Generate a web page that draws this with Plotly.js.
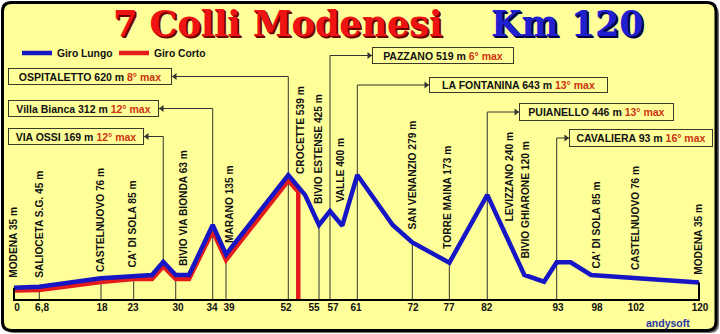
<!DOCTYPE html>
<html><head><meta charset="utf-8">
<script src="https://cdn.plot.ly/plotly-3.0.1.min.js"></script>
<style>html,body{margin:0;padding:0;background:#fff}#chart{width:720px;height:334px}</style>
</head><body><div id="chart"></div>
<script>
// ================= DATA =================
// Km markers shown under the profile. The original drawing is schematic: its horizontal
// scale is not linear in km, so every marker carries its distance along the drawing.
const kmLabels = ['0','6,8','18','23','30','34','39','52','55','57','61','72','77','82','93','98','102','120'];
const kmDist   = [0.53, 4.91, 15.42, 20.85, 28.73, 34.69, 37.66, 47.65, 52.55, 55.88, 59.91, 69.90, 76.20, 82.81, 95.30, 102.13, 108.96, 120.18];

// Giro Lungo profile (distance along drawing, elevation m)
const longDist = [0, 4.43, 15.24, 20.97, 24.18, 26.15, 28.33, 30.66, 34.81, 37.14, 48.05, 50.98, 53.43, 55.36, 57.51, 60.14, 66.34, 69.78, 76.26, 82.91, 89.40, 92.85, 95.07, 97.52, 101.08, 120];
const longElev = [53, 57, 94, 105, 108, 165, 108, 108, 324, 197, 540, 454, 324, 384, 321, 540, 324, 249, 161, 454, 108, 79, 163, 163, 108, 76];

// Points of the profile where a km marker line is drawn down to the axis
const markerDist = [4.43, 15.24, 20.97, 28.33, 34.81, 37.14, 48.05, 53.43, 55.36, 60.14, 69.78, 76.26, 82.91, 95.07];

// Giro Corto profile
const shortDist = [0, 4.43, 15.24, 20.97, 24.18, 26.15, 28.33, 30.66, 34.81, 37.14, 48.05, 49.80, 49.80];
const shortElev = [41, 43, 78, 91, 91, 145, 91, 91, 298, 173, 516, 468, 0];

// Places along the route
const placeNames   = ['MODENA','SALIOCETA S.G.','CASTELNUOVO',"CA' DI SOLA",'BIVIO VIA BIONDA','MARANO','CROCETTE','BIVIO ESTENSE','VALLE','SAN VENANZIO','TORRE MAINA','LEVIZZANO','BIVIO GHIARONE',"CA' DI SOLA",'CASTELNUOVO','MODENA'];
const placeHeights = [35, 45, 76, 85, 63, 135, 539, 425, 400, 279, 173, 240, 120, 85, 76, 35];

// Climbs
const climbNames   = ['VIA OSSI','Villa Bianca','OSPITALETTO','PAZZANO','LA FONTANINA','PUIANELLO','CAVALIERA'];
const climbHeights = [169, 312, 620, 519, 643, 446, 93];
const climbGrades  = [12, 12, 8, 6, 13, 13, 16];
const climbDist    = [26.15, 34.81, 48.05, 55.36, 60.14, 82.91, 95.07];

const seriesNames = ['Giro Lungo', 'Giro Corto'];
const titleText = '7 Colli Modenesi';
const totalText = 'Km 120';
const signature = 'andysoft';

// ================= LAYOUT / STYLE =================
const W = 720, H = 334;
const X0 = 14, X1 = 699, AXIS_Y = 300;
const PX_PER_UNIT = (X1 - X0) / 120;
const PX_PER_M = 0.2315;
const xd = px => (px - X0) / PX_PER_UNIT;
const yd = py => (AXIS_Y - py) / PX_PER_M;
const xp = px => px / W;
const yp = py => 1 - py / H;

const FONT = 'Liberation Sans, Arial, sans-serif';
const BLUE = '#1616c4', RED = '#e31b1b', LINEC = '#333333', HILITE = '#cc3311', BG = '#ffff99';

// label placement (pixel centre x, bottom y) for the rotated place names
const labelPx = [[13.3,279],[39.3,279],[100,273],[132.7,268.3],[183.3,266.7],[229,244],[300,175],[318,205],[340,203.3],[412.3,230.7],[447.3,250],[509,223],[525.7,259.3],[596.7,269.3],[635,271],[698.3,276]];
// climb boxes: left, right, top, bottom (px)
const boxPx = [[8,144,128,145],[8,159,100,117],[8,172,68,85],[372,514,47,64],[429,608,77,93],[519,674,103,121],[569,713,129,147]];

// ---- traces ----
const tickX = [], tickY = [];
markerDist.forEach(d => {
  const j = longDist.indexOf(d);
  tickX.push(d, d, null); tickY.push(0, longElev[j], null);
});
const leadX = [], leadY = [], headX = [], headY = [], headSym = [];
climbDist.forEach((d, k) => {
  const j = longDist.indexOf(d);
  const b = boxPx[k];
  const ay = yd((b[2] + b[3]) / 2);
  const lineXpx = X0 + d * PX_PER_UNIT;
  const left = b[1] < lineXpx;
  const edge = left ? b[1] : b[0];
  leadX.push(d, d, null, d, xd(edge), null);
  leadY.push(longElev[j], ay, null, ay, ay, null);
  headX.push(xd(left ? edge + 3 : edge - 3)); headY.push(ay);
  headSym.push(left ? 'triangle-left' : 'triangle-right');
});

const traces = [
  {x: tickX, y: tickY, mode: 'lines', line: {color: LINEC, width: 1}, showlegend: false, hoverinfo: 'skip'},
  {x: leadX, y: leadY, mode: 'lines', line: {color: LINEC, width: 1}, showlegend: false, hoverinfo: 'skip'},
  {x: headX, y: headY, mode: 'markers', marker: {symbol: headSym, size: 6, color: LINEC}, showlegend: false, hoverinfo: 'skip'},
  {x: shortDist, y: shortElev, mode: 'lines', name: seriesNames[1], legendrank: 2, line: {color: RED, width: 4.5}},
  {x: longDist, y: longElev, mode: 'lines', name: seriesNames[0], legendrank: 1, line: {color: BLUE, width: 4.5}},
  {x: [0, 0, 120, 120], y: [longElev[0], 0, 0, longElev[longElev.length - 1]], mode: 'lines', line: {color: '#000', width: 2}, showlegend: false, hoverinfo: 'skip'}
];

// ---- annotations ----
const ann = [];
ann.push({xref:'paper', yref:'paper', x: xp(277), y: yp(23.5), xanchor:'center', yanchor:'middle', showarrow:false,
  text: titleText, font:{family:'DejaVu Serif', size:35, weight:'bold', color:'#ee1414', shadow:'1px 1px 0 #700000, 2px 2px 0 #700000'}});
ann.push({xref:'paper', yref:'paper', x: xp(567), y: yp(23.5), xanchor:'center', yanchor:'middle', showarrow:false,
  text: totalText, font:{family:'DejaVu Serif', size:35, weight:'bold', color:'#2020d0', shadow:'1px 1px 0 #000048, 2px 2px 0 #000048'}});
placeNames.forEach((n, i) => {
  ann.push({xref:'x', yref:'y', x: xd(labelPx[i][0]), y: yd(labelPx[i][1]), xanchor:'center', yanchor:'bottom', showarrow:false,
    textangle: -90, text: n + ' ' + placeHeights[i] + ' m', font:{family: FONT, size:10.2, weight:'bold', color:'#111'}, borderpad:0});
});
climbNames.forEach((n, k) => {
  const b = boxPx[k];
  ann.push({xref:'paper', yref:'paper', x: xp(b[0]), y: yp((b[2]+b[3])/2), xanchor:'left', yanchor:'middle', showarrow:false,
    width: b[1]-b[0]-4, height: b[3]-b[2]-4, align:'center', valign:'middle', bordercolor:'#3a3a2a', borderwidth:1, borderpad:1,
    text: n + ' ' + climbHeights[k] + ' m <span style="color:' + HILITE + '">' + climbGrades[k] + '° max</span>',
    font:{family: FONT, size:10.5, weight:'bold', color:'#111'}});
});
ann.push({xref:'paper', yref:'paper', x: xp(668), y: yp(323), xanchor:'center', yanchor:'middle', showarrow:false,
  text: signature, font:{family: FONT, size:10.5, weight:'bold', color:'#2a35a8'}});

// ---- frame shapes ----
function rrect(x0, y0, x1, y1, r) {
  const X = xp, Y = yp;
  return `M${X(x0+r)},${Y(y0)} L${X(x1-r)},${Y(y0)} Q${X(x1)},${Y(y0)} ${X(x1)},${Y(y0+r)} L${X(x1)},${Y(y1-r)} Q${X(x1)},${Y(y1)} ${X(x1-r)},${Y(y1)} L${X(x0+r)},${Y(y1)} Q${X(x0)},${Y(y1)} ${X(x0)},${Y(y1-r)} L${X(x0)},${Y(y0+r)} Q${X(x0)},${Y(y0)} ${X(x0+r)},${Y(y0)} Z`;
}
const shapes = [
  {type:'path', xref:'paper', yref:'paper', layer:'below', path: rrect(5, 5, 719, 333, 9), fillcolor:'#707070', line:{width:0}},
  {type:'path', xref:'paper', yref:'paper', layer:'below', path: rrect(2.5, 2.5, 716, 330.5, 9), fillcolor: BG, line:{color:'#000', width:3}}
];

const layout = {
  width: W, height: H, margin: {l:0, r:0, t:0, b:0},
  paper_bgcolor: '#ffffff', plot_bgcolor: 'rgba(0,0,0,0)',
  xaxis: {range: [xd(0), xd(W)], anchor:'free', position: (H - AXIS_Y) / H, showgrid:false, zeroline:false, showline:false,
    ticks:'', tickmode:'array', tickvals: kmDist, ticktext: kmLabels, tickangle: 0, ticklabelstandoff: 10.5,
    tickfont:{family: FONT, size:10, weight:'bold', color:'#111'}, fixedrange:true},
  yaxis: {range: [yd(H), yd(0)], visible:false, fixedrange:true},
  showlegend: true,
  legend: {orientation:'h', x: xp(17), y: yp(53), xanchor:'left', yanchor:'middle', bgcolor:'rgba(0,0,0,0)',
    font:{family: FONT, size:10.3, weight:'bold', color:'#111'}, entrywidth: 52, entrywidthmode:'pixels', itemwidth: 30},
  annotations: ann, shapes: shapes
};

Plotly.newPlot('chart', traces, layout, {displayModeBar:false, staticPlot:true});
</script>
</body></html>
